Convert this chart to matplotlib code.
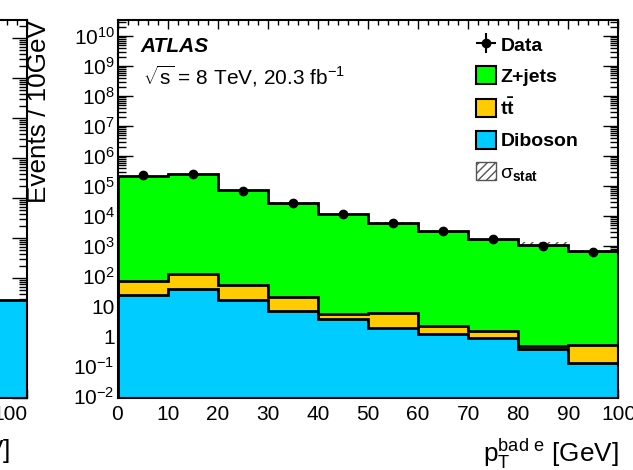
import numpy as np
import matplotlib
matplotlib.use('Agg')
import matplotlib.pyplot as plt
from matplotlib.ticker import LogLocator, NullFormatter, FuncFormatter, MultipleLocator
from matplotlib.patches import Patch

plt.rcParams['font.family'] = ['Liberation Sans', 'DejaVu Sans']
plt.rcParams['mathtext.fontset'] = 'custom'
plt.rcParams['mathtext.rm'] = 'Liberation Sans'
plt.rcParams['mathtext.it'] = 'Liberation Sans:italic'
plt.rcParams['mathtext.bf'] = 'Liberation Sans:bold'
plt.rcParams['hatch.linewidth'] = 1.0

# pT of the bad electron, 10 GeV bins
bin_edges = [0, 10, 20, 30, 40, 50, 60, 70, 80, 90, 100]
data = [2.3e5, 2.5e5, 7.0e4, 2.65e4, 1.17e4, 5.7e3, 3.2e3, 1.71e3, 1.02e3, 650]
zjets = [2.2e5, 2.45e5, 7.4e4, 2.8e4, 1.17e4, 6.0e3, 3.2e3, 1.71e3, 1.08e3, 697]
ttbar = [47, 81, 34, 12.5, 1.7, 4.1, 1.0, 0.62, 0.09, 0.38]
diboson = [23, 36, 15.8, 7.0, 3.7, 1.9, 1.14, 0.88, 0.37, 0.123]
stat_err = [900, 1000, 500, 250, 150, 100, 60, 40, 310, 40]

# last bin of the neighbouring panel
side_edges = [90, 100]
side_diboson = [2.8]

col_z = '#00ff00'
col_tt = '#ffcc00'
col_vv = '#00ccff'

edges = np.array(bin_edges, dtype=float)
centers = 0.5 * (edges[1:] + edges[:-1])
floor = 1e-4

vv_top = np.array(diboson)
tt_top = vv_top + np.array(ttbar)
tot = tt_top + np.array(zjets)
err = np.array(stat_err)


def log_label(v, pos):
    if v == 1:
        return '1'
    if v == 10:
        return '10'
    return r'$\mathdefault{10^{%d}}$' % int(round(np.log10(v)))


def style_axes(ax):
    ax.set_yscale('log')
    ax.yaxis.set_major_locator(LogLocator(base=10, numticks=40))
    ax.yaxis.set_minor_locator(LogLocator(base=10, subs=np.arange(2, 10), numticks=40))
    ax.yaxis.set_minor_formatter(NullFormatter())
    ax.xaxis.set_major_locator(MultipleLocator(10))
    ax.xaxis.set_minor_locator(MultipleLocator(2))
    ax.tick_params(which='both', direction='in', top=True, right=True, labelsize=15, width=1)
    ax.tick_params(axis='y', which='major', length=11, pad=2)
    ax.tick_params(axis='y', which='minor', length=5.5)
    ax.tick_params(axis='x', which='major', length=6.5, pad=5)
    ax.tick_params(axis='x', which='minor', length=3.5)
    for s in ax.spines.values():
        s.set_linewidth(1.5)


fig = plt.figure(figsize=(6.33, 4.70), dpi=100)
W, H = 633.0, 470.0
ax_l, ax_r, ax_t, ax_b = 117.5, 618.5, 20.0, 397.7
pos = [ax_l / W, 1 - ax_b / H, (ax_r - ax_l) / W, (ax_b - ax_t) / H]

# neighbouring panel, almost entirely off the canvas
side = fig.add_axes([(27 - (ax_r - ax_l)) / W, pos[1], pos[2], pos[3]])
side.stairs(side_diboson, side_edges, baseline=floor, fill=True, color=col_vv, zorder=2)
side.stairs(side_diboson, side_edges, color='k', lw=2, zorder=3)
side.set_xlim(0, 100)
side.set_ylim(1e-2, 2.8e7)
style_axes(side)
side.set_xticks([100])
side.set_xticklabels(['100'], ha='right')
side.set_yticklabels([])
side.set_xlabel(r'$\mathrm{p}_{\mathrm{T}}$ [GeV]', fontsize=18.8, loc='right')
side.xaxis.set_label_coords((10 - (27 - (ax_r - ax_l))) / (ax_r - ax_l), -0.105)

ax = fig.add_axes(pos)

# statistical band goes underneath the stack, only the part above the total shows
ax.fill_between(edges, np.append(tot - err, (tot - err)[-1]), np.append(tot + err, (tot + err)[-1]),
                step='post', facecolor='none', edgecolor='#555555', hatch='////', lw=0, zorder=1)

ax.stairs(vv_top, edges, baseline=floor, fill=True, color=col_vv, zorder=2)
ax.stairs(tt_top, edges, baseline=vv_top, fill=True, color=col_tt, zorder=2)
ax.stairs(tot, edges, baseline=tt_top, fill=True, color=col_z, zorder=2)
for top in (vv_top, tt_top, tot):
    ax.stairs(top, edges, color='k', lw=2, zorder=3)

h_data = ax.errorbar(centers, data, yerr=np.sqrt(data), xerr=0, fmt='o', color='k',
                     ms=6, elinewidth=1.5, capsize=0, zorder=5)

ax.set_xlim(0, 100)
ax.set_ylim(8.8e-3, 3.4e10)
style_axes(ax)
ax.yaxis.set_major_formatter(FuncFormatter(log_label))

ax.set_ylabel('Events / 10GeV', fontsize=18.8, loc='top')
ax.yaxis.set_label_coords((51 - ax_l) / (ax_r - ax_l), 1.0)
ax.set_xlabel(r'$\mathrm{p}_{\mathrm{T}}^{\mathrm{bad\ e}}$ [GeV]', fontsize=18.8, loc='right')
ax.xaxis.set_label_coords(1.0, -0.105)

ax.text(0.045, 0.915, 'ATLAS', transform=ax.transAxes, fontsize=15,
        fontweight='bold', fontstyle='italic')
ax.text(0.05, 0.83, r'$\sqrt{\mathrm{s}}$ = 8 TeV, 20.3 fb$^{-1}$', transform=ax.transAxes, fontsize=15)

handles = [h_data,
           Patch(facecolor=col_z, edgecolor='k', lw=1.5),
           Patch(facecolor=col_tt, edgecolor='k', lw=1.5),
           Patch(facecolor=col_vv, edgecolor='k', lw=1.5),
           Patch(facecolor='white', edgecolor='#555555', hatch='////', lw=1)]
labels = ['Data', 'Z+jets', r'$\mathbf{t\bar{t}}$', 'Diboson', r'$\mathrm{\sigma}_{\mathbf{stat}}$']
ax.legend(handles, labels, loc='upper left', bbox_to_anchor=((476 - ax_l) / (ax_r - ax_l), 0.960),
          frameon=False, prop={'weight': 'bold', 'size': 14}, borderpad=0, borderaxespad=0,
          handlelength=1.05, handleheight=1.05, handletextpad=0.2, labelspacing=0.6)

fig.savefig('out.png', dpi=100)
